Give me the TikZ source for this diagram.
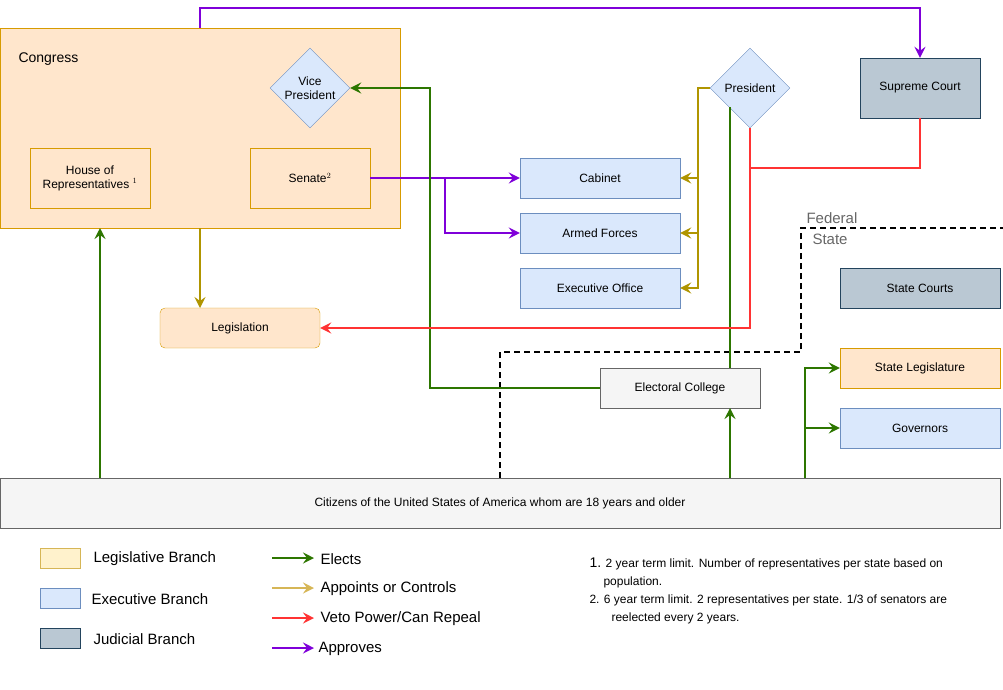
\documentclass[tikz,border=0pt]{standalone}
\usepackage{fontspec}
\setmainfont{Liberation Sans}
\usetikzlibrary{shapes.geometric,arrows.meta}
\definecolor{legF}{HTML}{FFE6CC}\definecolor{legD}{HTML}{D79B00}
\definecolor{exF}{HTML}{DAE8FC}\definecolor{exD}{HTML}{6C8EBF}
\definecolor{juF}{HTML}{BAC8D3}\definecolor{juD}{HTML}{23445D}
\definecolor{grF}{HTML}{F5F5F5}\definecolor{grD}{HTML}{666666}
\definecolor{cEl}{HTML}{2D7600}\definecolor{cAp}{HTML}{B09500}
\definecolor{cVe}{HTML}{FF3333}\definecolor{cPr}{HTML}{7F00D9}
\definecolor{lgF}{HTML}{FFF2CC}\definecolor{lgD}{HTML}{D6B656}\definecolor{lgA}{HTML}{D6B656}
\tikzset{
 box/.style={draw,rectangle,minimum width=#1,align=center,font=\fontsize{12}{14}\selectfont,inner sep=1pt},
 box/.default=120pt,
 leg/.style={box,fill=legF,draw=legD},
 exe/.style={box=160pt,fill=exF,draw=exD,minimum height=40pt},
 jud/.style={box,fill=juF,draw=juD},
 gry/.style={box=160pt,fill=grF,draw=grD,minimum height=40pt},
 dia/.style={diamond,draw=exD,fill=exF,minimum width=80pt,minimum height=80pt,inner sep=0pt,align=center,font=\fontsize{12}{14}\selectfont},
 ar/.style={line width=1.8pt,-{Stealth[length=11pt,width=11pt,inset=4pt]}},
 el/.style={ar,draw=cEl},ap/.style={ar,draw=cAp},ve/.style={ar,draw=cVe},pr/.style={ar,draw=cPr},
 ln/.style={line width=1.8pt},
 lt/.style={anchor=west,font=\fontsize{15}{17}\selectfont}
}
\begin{document}
\begin{tikzpicture}[x=1pt,y=-1pt]
\useasboundingbox (0,0) rectangle (1003,689);
\node[leg,minimum width=400pt,minimum height=200pt] (cong) at (200,128) {};
\node[anchor=west,font=\fontsize{14}{16}\selectfont] (congt) at (15,59) {Congress};
\node[dia] (vp) at (310,88) {Vice\\President};
\node[leg,minimum height=60pt] (house) at (90,178) {House of\\Representatives $^1$};
\node[leg,minimum height=60pt] (sen) at (310,178) {Senate$^2$};
\node[leg,rounded corners=5pt,minimum width=160pt,minimum height=40pt] (legis) at (240,328) {Legislation};
\node[exe] (cab) at (600,178) {Cabinet};
\node[exe] (arm) at (600,233) {Armed Forces};
\node[exe] (eo) at (600,288) {Executive Office};
\node[dia] (pres) at (750,88) {President};
\node[jud,minimum height=60pt] (sc) at (920,88) {Supreme Court};
\node[jud,box=160pt,minimum height=40pt] (stc) at (920,288) {State Courts};
\node[leg,box=160pt,minimum height=40pt] (stl) at (920,368) {State Legislature};
\node[exe] (gov) at (920,428) {Governors};
\node[gry] (ec) at (680,388) {Electoral College};
\node[gry,minimum width=1000pt,minimum height=50pt] (cit) at (500,503) {Citizens of the United States of America whom are 18 years and older};
% dashed boundary
\draw[line width=1.8pt,dash pattern=on 6pt off 4pt] (500,478) -- (500,352) -- (801,352) -- (801,228) -- (1003,228);
\node[anchor=west,text=grD,font=\fontsize{15}{17}\selectfont] (fed) at (803,218) {Federal};
\node[anchor=west,text=grD,font=\fontsize{15}{17}\selectfont] (sta) at (809,239) {State};
% approves
\draw[pr] (cong.north) -- (200,8) -| (sc.north);
\draw[pr] (sen.east) -- (cab.west);
\draw[pr] (445,178) |- (arm.west);
% elects
\draw[el] (ec.west) -- (430,388) |- (vp.east);
\draw[el] (100,478) -- (100,228);
\draw[el] (730,478) -- (730,408);
\draw[ln,draw=cEl] (730,368) -- (730,107);
\draw[el] (805,478) |- (stl.west);
\draw[el] (805,428) -- (gov.west);
% appoints
\draw[ap] (pres.west) -- (698,88) |- (cab.east);
\draw[ap] (698,178) -- (698,233) -- (arm.east);
\draw[ap] (698,233) |- (eo.east);
\draw[ap] (200,228) -- (200,308);
% veto
\draw[ve] (pres.south) |- (legis.east);
\draw[ln,draw=cVe] (sc.south) |- (750,168);
% legend
\node[draw=lgD,fill=lgF,minimum width=40pt,minimum height=20pt] (k1) at (60,558) {};
\node[draw=exD,fill=exF,minimum width=40pt,minimum height=20pt] (k2) at (60,598) {};
\node[draw=juD,fill=juF,minimum width=40pt,minimum height=20pt] (k3) at (60,638) {};
\node[lt] (k1t) at (90,559) {Legislative Branch};
\node[lt] (k2t) at (88,599) {Executive Branch};
\node[lt] (k3t) at (90,639) {Judicial Branch};
\coordinate (a1) at (272,558); \coordinate (b1) at (314,558);
\coordinate (a2) at (272,588); \coordinate (b2) at (314,588);
\coordinate (a3) at (272,618); \coordinate (b3) at (314,618);
\coordinate (a4) at (272,648); \coordinate (b4) at (314,648);
\draw[el] (a1) -- (b1); \draw[ar,draw=lgA] (a2) -- (b2);
\draw[ve] (a3) -- (b3); \draw[pr] (a4) -- (b4);
\node[lt] (l1) at (317,559) {Elects};
\node[lt] (l2) at (317,589) {Appoints or Controls};
\node[lt] (l3) at (317,619) {Veto Power/Can Repeal};
\node[lt] (l4) at (315,649) {Approves};
\node[anchor=north west,align=left,font=\fontsize{12}{18}\selectfont] (notes) at (586,554)
 {{\fontsize{14}{16}\selectfont 1.} 2 year term limit. Number of representatives per state based on\\
 \hspace*{14pt}population.\\
 2. 6 year term limit. 2 representatives per state. 1/3 of senators are\\
 \hspace*{22pt}reelected every 2 years.};
\end{tikzpicture}
\end{document}
